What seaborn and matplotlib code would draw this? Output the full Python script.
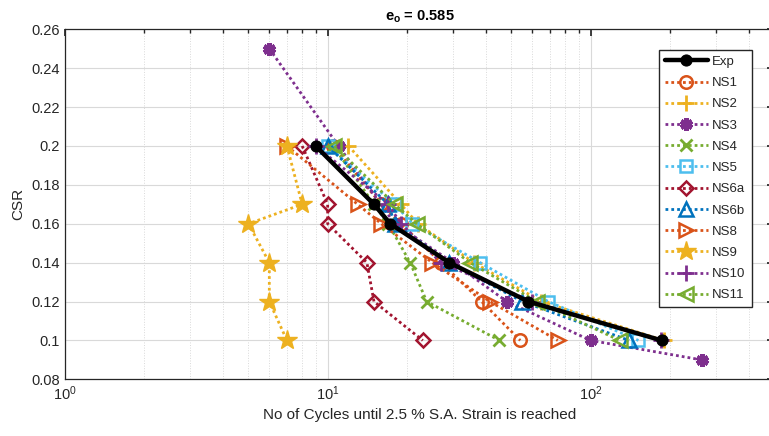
import numpy as np
import pandas as pd
import matplotlib
matplotlib.use("Agg")
import matplotlib.pyplot as plt
import matplotlib.ticker as mticker
import seaborn as sns

# data (cycles to 2.5 % S.A. strain, CSR)
csr_levels = [0.2, 0.17, 0.16, 0.14, 0.12, 0.1]

exp_n = [9, 15, 17.3, 29, 58, 186]
ns1_n = [10.5, 16, 19, 27, 38.5, 54]
ns2_n = [12, 19, 22, 36, 65, 190]
ns3_n = [6, 11, 18, 30, 48, 100, 264]
ns3_csr = [0.25, 0.2, 0.16, 0.14, 0.12, 0.1, 0.09]
ns4_n = [10.5, 15, 17, 20.6, 23.8, 45]
ns5_n = [10, 18, 21, 38, 69, 152]
ns6a_n = [8, 10, 10, 14.1, 15, 23]
ns6b_n = [10, 17, 18, 29, 55, 140]
ns8_n = [7, 13, 16, 25, 41.4, 75]
ns9_n = [7, 8, 5, 6, 6, 7]
ns10_n = [9, 17, 19, 27, 60, 185]
ns11_n = [10.6, 18, 21.8, 34.8, 62.3, 129]

series_names = ['Exp', 'NS1', 'NS2', 'NS3', 'NS4', 'NS5', 'NS6a', 'NS6b',
                'NS8', 'NS9', 'NS10', 'NS11']
series_n = [exp_n, ns1_n, ns2_n, ns3_n, ns4_n, ns5_n, ns6a_n, ns6b_n,
            ns8_n, ns9_n, ns10_n, ns11_n]
series_csr = [csr_levels, csr_levels, csr_levels, ns3_csr] + [csr_levels] * 8

# matlab default colours
blue = (0, 0.447, 0.741)
orange = (0.85, 0.325, 0.098)
yellow = (0.929, 0.694, 0.125)
purple = (0.494, 0.184, 0.556)
green = (0.466, 0.674, 0.188)
cyan = (0.301, 0.745, 0.933)
darkred = (0.635, 0.078, 0.184)

dots = (0, (1, 1.1))
styles = {
    'Exp': dict(color='black', marker='o', mfc='black', ls='-', lw=3.2, ms=8),
    'NS1': dict(color=orange, marker='o', mfc='none', ms=9, mew=1.8),
    'NS2': dict(color=yellow, marker='+', ms=11, mew=2),
    'NS3': dict(color=purple, marker=(6, 2, 0), ms=9, mew=3.5),
    'NS4': dict(color=green, marker='x', ms=8, mew=2),
    'NS5': dict(color=cyan, marker='s', mfc='none', ms=8, mew=1.8),
    'NS6a': dict(color=darkred, marker='D', mfc='none', ms=7.5, mew=1.8),
    'NS6b': dict(color=blue, marker='^', mfc='none', ms=10, mew=1.8),
    'NS8': dict(color=orange, marker='>', mfc='none', ms=10, mew=1.8),
    'NS9': dict(color=yellow, marker='*', mfc=yellow, ms=15, mew=1),
    'NS10': dict(color=purple, marker='+', ms=11, mew=2),
    'NS11': dict(color=green, marker='<', mfc='none', ms=10, mew=1.8),
}
for name, st in styles.items():
    st['mec'] = st['color']
    st.setdefault('ls', dots)
    st.setdefault('lw', 2)

sns.set_theme(style="white")
plt.rcParams['font.family'] = ['Liberation Sans', 'DejaVu Sans']
plt.rcParams['mathtext.fontset'] = 'custom'
plt.rcParams['mathtext.rm'] = 'Liberation Sans'
plt.rcParams['mathtext.bf'] = 'Liberation Sans:bold'
axcol = (0.15, 0.15, 0.15)

fig = plt.figure(figsize=(7.69, 4.36), dpi=100)
ax = fig.add_axes([0.0841, 0.130, 0.923, 0.8028])

for name, n, c in zip(series_names, series_n, series_csr):
    df = pd.DataFrame({'N': n, 'CSR': c})
    sns.lineplot(data=df, x='N', y='CSR', ax=ax, sort=False, estimator=None,
                 label=name, zorder=5 if name == 'Exp' else 3, **styles[name])

ax.set_xscale('log')
ax.set_xlim(1, 500)
ax.set_ylim(0.08, 0.26)
ax.set_yticks(np.arange(0.08, 0.261, 0.02))
ax.yaxis.set_major_formatter(mticker.FuncFormatter(lambda v, p: '%g' % round(v, 2)))
ax.xaxis.set_major_locator(mticker.LogLocator(base=10))
ax.xaxis.set_minor_locator(mticker.LogLocator(base=10, subs=np.arange(2, 10)))
ax.xaxis.set_minor_formatter(mticker.NullFormatter())

ax.grid(True, which='major', color=(0.85, 0.85, 0.85), lw=0.8)
ax.grid(True, which='minor', axis='x', color=(0.85, 0.85, 0.85), lw=0.7, ls=':')
ax.set_axisbelow(True)
ax.tick_params(which='both', direction='in', top=True, right=True, colors=axcol,
               labelsize=10.5, labelcolor=axcol)
ax.tick_params(which='major', length=5)
ax.tick_params(which='minor', length=3)
for sp in ax.spines.values():
    sp.set_color(axcol)
    sp.set_linewidth(0.9)

ax.set_xlabel('No of Cycles until 2.5 % S.A. Strain is reached', fontsize=11, color=axcol)
ax.set_ylabel('CSR', fontsize=11, color=axcol)
ax.set_title(r'$\mathbf{e_o}$ = 0.585', fontsize=10.5, fontweight='bold', color='black', pad=6)

leg = ax.legend(loc='upper right', bbox_to_anchor=(0.977, 0.96), fontsize=9.5,
                labelspacing=0.68, handlelength=3.3, handletextpad=0.3,
                borderpad=0.45, fancybox=False, framealpha=1, edgecolor=axcol)
leg.get_frame().set_linewidth(1.0)

fig.savefig('out.png', dpi=100)
